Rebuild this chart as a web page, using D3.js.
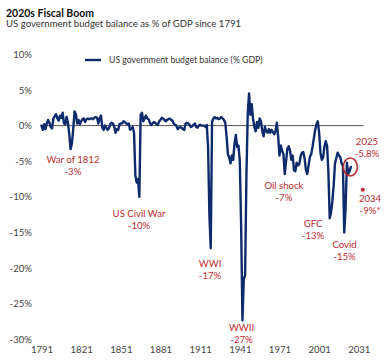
<!DOCTYPE html>
<html>
<head>
<meta charset="utf-8">
<script src="https://cdn.jsdelivr.net/npm/d3@7"></script>
<style>
  html, body { margin: 0; padding: 0; background: #fff; }
  svg { display: block; font-family: Lato, "Open Sans", sans-serif; }
</style>
</head>
<body>
<svg id="chart" width="386" height="360"></svg>
<script>
// ---- Data ----
const title = "2020s Fiscal Boom";
const subtitle = "US government budget balance as % of GDP since 1791";
const seriesName = "US government budget balance (% GDP)";
const startYear = 1791;
const balance = [
  // 1791-1800
  0.0, -0.6, 0.2, -0.5, 0.3, 0.8, 0.4, -0.2, -0.4, 1.0,
  // 1801-1810
  1.3, 1.6, 1.0, 0.7, 1.4, 1.1, 1.8, 0.3, 0.2, 1.2,
  // 1811-1820
  0.4, -1.2, -3.3, -2.5, -0.5, 2.0, 1.6, 0.3, 0.8, 0.2,
  // 1821-1830
  0.6, 0.9, 1.0, 0.5, 0.9, 1.0, 0.9, 1.0, 1.0, 0.9,
  // 1831-1840
  1.1, 1.2, 1.1, 0.3, 1.0, 1.4, -0.3, -0.6, 0.0, -0.3,
  // 1841-1850
  -0.6, -0.4, 0.2, 0.4, 0.3, -0.1, -1.0, -0.5, -0.6, 0.2,
  // 1851-1860
  0.3, 0.3, 0.6, 0.5, 0.3, 0.2, 0.3, -0.6, -0.4, -0.2,
  // 1861-1870
  -1.0, -7.0, -8.0, -7.5, -10.0, 1.5, 1.8, 0.6, 1.0, 1.4,
  // 1871-1880
  1.0, 0.9, 0.4, 0.1, 0.3, 0.5, 0.4, 0.2, 0.1, 0.6,
  // 1881-1890
  0.8, 1.1, 1.0, 0.8, 0.6, 0.8, 0.9, 1.0, 0.8, 0.7,
  // 1891-1900
  0.3, 0.1, 0.0, -0.5, -0.3, -0.2, -0.3, -0.5, -0.6, 0.3,
  // 1901-1910
  0.4, 0.3, 0.1, -0.2, -0.1, 0.1, 0.3, -0.2, -0.3, 0.0,
  // 1911-1920
  0.1, 0.0, 0.0, 0.0, -0.2, 0.1, -3.0, -12.5, -17.2, 0.5,
  // 1921-1930
  1.0, 1.2, 1.0, 1.1, 0.9, 1.0, 1.2, 1.0, 0.8, 0.4,
  // 1931-1940
  -1.5, -4.0, -4.5, -5.3, -4.2, -4.8, -2.5, -1.3, -3.0, -2.8,
  // 1941-1950
  -5.0, -14.0, -27.3, -21.5, -21.0, -7.0, 1.7, 4.5, 1.5, 3.0,
  // 1951-1960
  1.0, -0.2, -0.8, 0.5, -0.3, 1.0, 0.6, -0.8, -1.5, -0.2,
  // 1961-1970
  -0.8, -1.0, -0.5, -1.0, -0.6, -0.9, -1.2, -0.8, 0.4, -1.5,
  // 1971-1980
  -4.2, -2.8, -3.5, -4.0, -6.8, -5.0, -3.2, -2.9, -3.5, -4.8,
  // 1981-1990
  -4.2, -6.3, -6.4, -5.2, -5.6, -5.4, -4.3, -3.8, -3.7, -4.6,
  // 1991-2000
  -6.2, -6.8, -5.6, -4.4, -4.0, -3.0, -1.8, -0.6, 0.2, 0.6,
  // 2001-2010
  -1.0, -3.8, -4.8, -4.5, -3.0, -2.2, -2.8, -6.5, -13.0, -12.2,
  // 2011-2020
  -10.6, -8.4, -5.3, -4.5, -3.8, -4.2, -4.4, -5.3, -5.6, -15.0,
  // 2021-2025
  -11.5, -5.2, -6.8, -6.4, -5.8
];
const years = balance.map((_, i) => startYear + i);

const xTicks = [1791, 1821, 1851, 1881, 1911, 1941, 1971, 2001, 2031];
const yTicks = [10, 5, 0, -5, -10, -15, -20, -25, -30];

// highlighted 2025 value and 2034 projection
const highlightYear = 2024.6, highlightValue = -5.8;
const projectionYear = 2034, projectionValue = -9;

// annotation texts and their anchor in data space (year, value of first baseline)
const annoText = [
  ["War of 1812", "-3%"],
  ["US Civil War", "-10%"],
  ["WWI", "-17%"],
  ["WWII", "-27%"],
  ["Oil shock", "-7%"],
  ["GFC", "-13%"],
  ["Covid", "-15%"],
  ["2025", "-5.8%"],
  ["2034", "-9%*"]
];
const annoYear  = [1814.8, 1864.8, 1918.5, 1942.3, 1974.4, 1996.4, 2020.2, 2037.2, 2039.5];
const annoValue = [-5.25, -12.8, -19.8, -28.8, -8.9, -14.2, -17.2, -2.7, -10.65];

// ---- Chart ----
const navy = "#0c2a6c";
const red = "#bf2a30";
const svg = d3.select("#chart");

const x = d3.scaleLinear().domain([1791, 2031]).range([41.5, 358.8]);
const y = d3.scaleLinear().domain([-30, 10]).range([339.5, 54.3]);

svg.append("text").attr("x", 6).attr("y", 16.5)
  .attr("font-size", 10.5).attr("font-weight", "bold").attr("fill", "#111")
  .text(title);
svg.append("text").attr("x", 6).attr("y", 27)
  .attr("font-size", 9.6).attr("fill", "#333")
  .text(subtitle);

// y axis labels
const yAxis = d3.axisLeft(y).tickValues(yTicks).tickFormat(d => d + "%").tickSize(0).tickPadding(0);
const gy = svg.append("g").attr("transform", "translate(32,0)").call(yAxis);
gy.select(".domain").remove();
gy.selectAll("text").attr("font-size", 9.6).attr("fill", "#444").attr("font-family", "Lato, sans-serif");

// x axis labels
const xAxis = d3.axisBottom(x).tickValues(xTicks).tickFormat(d3.format("d")).tickSize(0).tickPadding(0);
const gx = svg.append("g").attr("transform", "translate(0,346)").call(xAxis);
gx.select(".domain").remove();
gx.selectAll("text").attr("font-size", 9.6).attr("fill", "#444").attr("font-family", "Lato, sans-serif");

// zero line
svg.append("line")
  .attr("x1", x(1791) - 1).attr("x2", x(2034.5))
  .attr("y1", y(0)).attr("y2", y(0))
  .attr("stroke", "#555").attr("stroke-width", 1);

// series line
const line = d3.line().x((d, i) => x(years[i])).y(d => y(d)).curve(d3.curveLinear);
svg.append("path").datum(balance)
  .attr("d", line)
  .attr("fill", "none").attr("stroke", navy)
  .attr("stroke-width", 2.4).attr("stroke-linejoin", "round").attr("stroke-linecap", "round");

// legend
svg.append("line").attr("x1", 85).attr("x2", 101).attr("y1", 60).attr("y2", 60)
  .attr("stroke", navy).attr("stroke-width", 2.4);
svg.append("text").attr("x", 109).attr("y", 63)
  .attr("font-size", 8.7).attr("fill", "#333").text(seriesName);

// highlight circle and projection dot
svg.append("ellipse")
  .attr("cx", x(highlightYear)).attr("cy", y(highlightValue))
  .attr("rx", 7).attr("ry", 9)
  .attr("fill", "none").attr("stroke", red).attr("stroke-width", 1.6);
svg.append("circle")
  .attr("cx", x(projectionYear)).attr("cy", y(projectionValue))
  .attr("r", 2).attr("fill", red);

// annotations
annoText.forEach((lines, i) => {
  const t = svg.append("text")
    .attr("x", x(annoYear[i])).attr("y", y(annoValue[i]))
    .attr("text-anchor", "middle").attr("font-size", 9.6).attr("fill", red);
  lines.forEach((s, j) => {
    t.append("tspan").attr("x", x(annoYear[i])).attr("dy", j === 0 ? 0 : 12).text(s);
  });
});
</script>
</body>
</html>
